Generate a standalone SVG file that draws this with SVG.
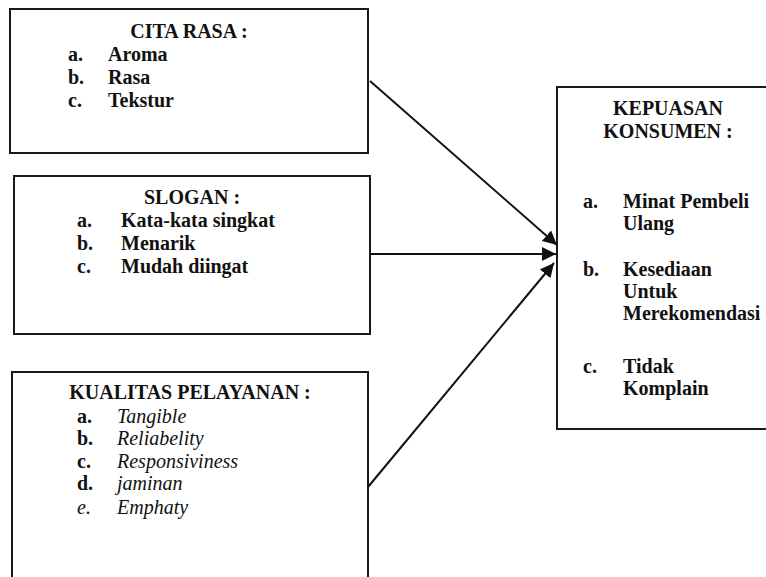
<svg xmlns="http://www.w3.org/2000/svg" width="766" height="577" viewBox="0 0 766 577">
<defs>
<style>
.box{fill:#fff;stroke:#1a1a1a;stroke-width:2}
text{font-family:"Liberation Serif","Times New Roman",serif;font-size:20px;fill:#111}
.b{font-weight:bold}
.i{font-style:italic}
.c{text-anchor:middle}
.ln{stroke:#111;stroke-width:2;fill:none}
</style>
<marker id="ah" viewBox="0 0 10 10" refX="10" refY="5" markerWidth="7" markerHeight="7" markerUnits="strokeWidth" orient="auto">
<path d="M0,0 L10,5 L0,10 Z" fill="#111"/>
</marker>
</defs>
<rect width="766" height="577" fill="#fff"/>
<g id="cita-rasa">
<rect class="box" x="10" y="9" width="358" height="144"/>
<text class="b c" x="189" y="38">CITA RASA :</text>
<text class="b" x="68" y="61">a.</text><text class="b" x="108" y="61">Aroma</text>
<text class="b" x="68" y="84">b.</text><text class="b" x="108" y="84">Rasa</text>
<text class="b" x="68" y="107">c.</text><text class="b" x="108" y="107">Tekstur</text>
</g>
<g id="slogan">
<rect class="box" x="14" y="176" width="356" height="158"/>
<text class="b c" x="192" y="204">SLOGAN :</text>
<text class="b" x="77" y="227">a.</text><text class="b" x="121" y="227">Kata-kata singkat</text>
<text class="b" x="77" y="250">b.</text><text class="b" x="121" y="250">Menarik</text>
<text class="b" x="77" y="273">c.</text><text class="b" x="121" y="273">Mudah diingat</text>
</g>
<g id="kualitas-pelayanan">
<path class="box" d="M12,580 V372 H368 V580"/>
<text class="b c" x="190" y="399">KUALITAS PELAYANAN :</text>
<text class="b" x="77" y="423">a.</text><text class="i" x="117" y="423">Tangible</text>
<text class="b" x="77" y="445">b.</text><text class="i" x="117" y="445">Reliabelity</text>
<text class="b" x="77" y="468">c.</text><text class="i" x="117" y="468">Responsiviness</text>
<text class="b" x="77" y="490">d.</text><text class="i" x="117" y="490">jaminan</text>
<text class="i" x="77" y="514">e.</text><text class="i" x="117" y="514">Emphaty</text>
</g>
<g id="kepuasan-konsumen">
<path class="box" d="M770,87 H557 V429 H770"/>
<text class="b c" x="668" y="115">KEPUASAN</text>
<text class="b c" x="668" y="138">KONSUMEN :</text>
<text class="b" x="583" y="208">a.</text><text class="b" x="623" y="208">Minat Pembeli</text>
<text class="b" x="623" y="230">Ulang</text>
<text class="b" x="583" y="276">b.</text><text class="b" x="623" y="276">Kesediaan</text>
<text class="b" x="623" y="298">Untuk</text>
<text class="b" x="623" y="320">Merekomendasi</text>
<text class="b" x="583" y="373">c.</text><text class="b" x="623" y="373">Tidak</text>
<text class="b" x="623" y="395">Komplain</text>
</g>
<g id="connectors">
<line class="ln" x1="370" y1="81" x2="557" y2="245" marker-end="url(#ah)"/>
<line class="ln" x1="370" y1="254" x2="556" y2="254" marker-end="url(#ah)"/>
<line class="ln" x1="368" y1="487" x2="554" y2="263" marker-end="url(#ah)"/>
</g>
</svg>
